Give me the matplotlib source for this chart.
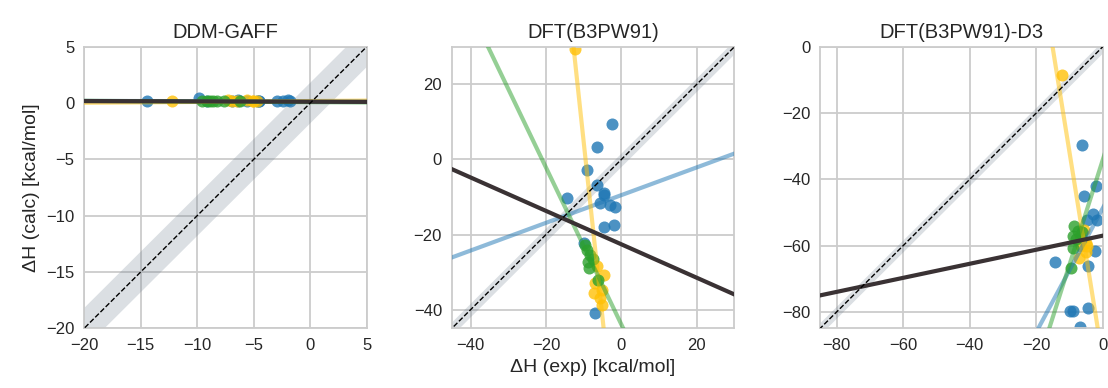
import numpy as np
import matplotlib.pyplot as plt
import seaborn as sns

sns.set_style('whitegrid')
plt.rcParams['font.family'] = ['Liberation Sans', 'DejaVu Sans']
plt.rcParams['grid.linewidth'] = 1.3
plt.rcParams['axes.linewidth'] = 1.3

# experimental enthalpies per group (same molecules in every panel)
blue_exp = [-14.4, -9.8, -9.1, -6.9, -6.4, -6.4, -5.6, -4.7, -4.5, -4.5, -2.9, -2.4, -2.0, -1.8]
yellow_exp = [-12.2, -7.3, -6.9, -6.45, -5.55, -5.1, -5.1, -4.7]
green_exp = [-9.6, -9.1, -8.9, -8.6, -8.2, -7.6, -6.2]

# calculated enthalpies per method
titles = ['DDM-GAFF', 'DFT(B3PW91)', 'DFT(B3PW91)-D3']

blue_ddm = [0.2, 0.45, 0.2, 0.15, 0.2, 0.25, 0.15, 0.2, 0.15, 0.2, 0.15, 0.2, 0.25, 0.2]
yellow_ddm = [0.15, 0.25, 0.2, 0.2, 0.25, 0.2, 0.15, 0.2]
green_ddm = [0.2, 0.15, 0.2, 0.15, 0.2, 0.15, 0.2]

blue_b3 = [-10.3, -22.3, -2.8, -40.9, 3.4, -6.8, -11.6, -9.0, -9.5, -17.9, -12.1, 9.4, -17.4, -12.6]
yellow_b3 = [29.3, -35.6, -32.9, -28.5, -36.9, -34.7, -38.7, -30.7]
green_b3 = [-22.7, -24.0, -27.2, -28.9, -25.4, -26.5, -32.0]

blue_d3 = [-64.9, -79.6, -79.7, -84.6, -29.6, -58.0, -44.9, -52.4, -78.8, -66.1, -50.5, -61.7, -42.0, -52.4]
yellow_d3 = [-8.5, -63.7, -57.0, -60.0, -55.2, -59.2, -62.0, -60.2]
green_d3 = [-66.7, -57.2, -60.7, -54.2, -58.0, -55.7, -56.0]

# fitted lines (slope, intercept): blue, yellow, green, all
fits_ddm = [(-0.002, 0.15), (0.008, 0.18), (-0.006, 0.08), (-0.003, 0.12)]
fits_b3 = [(0.369, -9.5), (-9.375, -89.1), (-2.09, -43.95), (-0.445, -22.6)]
fits_d3 = [(1.87, -48.7), (-6.25, -94.4), (3.16, -34.1), (0.212, -57.0)]

limits = [(-20, 5), (-45, 30), (-85, 0)]
ticks = [np.arange(-20, 6, 5), np.arange(-40, 21, 20), np.arange(-80, 1, 20)]

calc = [(blue_ddm, yellow_ddm, green_ddm),
        (blue_b3, yellow_b3, green_b3),
        (blue_d3, yellow_d3, green_d3)]
fits = [fits_ddm, fits_b3, fits_d3]

colors = ['#1f77b4', '#ffc107', '#2ca02c']
exps = [blue_exp, yellow_exp, green_exp]

fig = plt.figure(figsize=(11.08, 3.88), dpi=100)
lefts = [0.0758, 0.4077, 0.7401]

for k in range(3):
    ax = fig.add_axes([lefts[k], 0.1534, 0.2552, 0.7262])
    lo, hi = limits[k]
    xx = np.linspace(lo - 5, hi + 5, 200)

    ax.fill_between(xx, xx - 1.8, xx + 1.8, color='slategray', alpha=0.25, lw=0, zorder=1)
    for e, c, col in zip(exps, calc[k], colors):
        ax.scatter(e, c, s=75, color=col, alpha=0.8, lw=0, zorder=2)
    for (m, b), col in zip(fits[k][:3], colors):
        ax.plot(xx, m * xx + b, color=col, alpha=0.5, lw=3, zorder=3)
    m, b = fits[k][3]
    ax.plot(xx, m * xx + b, color='#3a3234', lw=3, zorder=4)
    ax.plot(xx, xx, 'k--', lw=1, zorder=5)

    ax.set_xlim(lo, hi)
    ax.set_ylim(lo, hi)
    ax.set_xticks(ticks[k])
    ax.set_yticks(ticks[k])
    ax.tick_params(labelsize=12)
    ax.set_title(titles[k], fontsize=14.5)
    if k == 0:
        ax.set_ylabel('ΔH (calc) [kcal/mol]', fontsize=14)
    if k == 1:
        ax.set_xlabel('ΔH (exp) [kcal/mol]', fontsize=14)

plt.savefig('out.png', dpi=100)
